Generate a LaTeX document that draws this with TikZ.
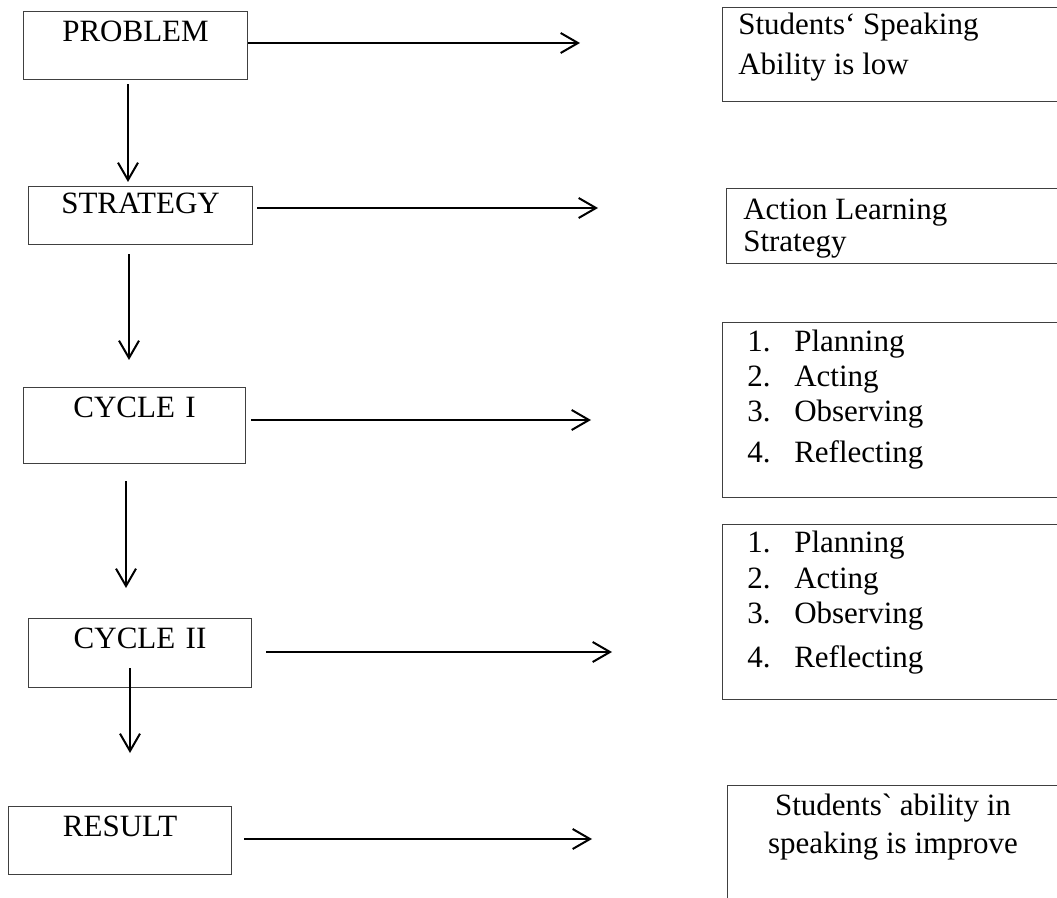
\documentclass[tikz,border=0pt]{standalone}
\usepackage{fontspec}
\setmainfont{Liberation Serif}
\usetikzlibrary{arrows.meta}
\usetikzlibrary{calc}
\tikzset{>={Straight Barb[length=13pt,width=15pt]}}
\tikzset{box/.style={draw=black!75,line width=0.8pt,inner sep=0pt,anchor=north west}}
\tikzset{lbox/.style={box,text width=168pt,align=center,text height=22.5pt,font=\fontsize{23.25}{26.25}\selectfont}}
\tikzset{txt/.style={inner sep=0pt,font=\fontsize{23.25}{26.25}\selectfont}}
\tikzset{flow/.style={->,line width=1.5pt}}

\begin{document}
\begin{tikzpicture}[x=0.75pt,y=-0.75pt]
			\clip (0,0) rectangle (1057,898);
			\node[lbox,text depth=28.5pt] (problem) at (23,11) {PROBLEM};
			\node[lbox,text height=20.25pt,text depth=23.25pt] (strategy) at (28,186) {STRATEGY};
			\node[lbox,text width=166.5pt,text depth=34.5pt] (cycone) at (23,387) {CYCLE I};
			\node[lbox,text width=167.25pt,text depth=29.25pt] (cyctwo) at (28,618) {CYCLE II};
			\node[lbox,text width=167.25pt,text depth=28.5pt] (result) at (8,806) {RESULT};
			
			\node[box,minimum width=253.5pt,minimum height=70.5pt] (ansone) at (722,7) {};
			\node[box,minimum width=250.5pt,minimum height=56.25pt] (anstwo) at (726,188) {};
			\node[box,minimum width=253.5pt,minimum height=131.25pt] (ansthree) at (722,322) {};
			\node[box,minimum width=253.5pt,minimum height=131.25pt] (ansfour) at (722,524) {};
			\node[box,minimum width=249.75pt,minimum height=97.5pt] (ansfive) at (727,785) {};
			
			\node[txt,anchor=base west,align=left] (ansonetxt) at ($(ansone.north west)+(16,68)$) {Students‘ Speaking\\[3.75pt]Ability is low};
			\node[txt,anchor=base west,align=left] (anstwotxt) at ($(anstwo.north west)+(17,64)$) {Action Learning\\[-2.25pt]Strategy};
			\node[txt,anchor=base west,align=left] (ansthreetxt) at ($(ansthree.north west)+(25,141)$) {\makebox[35.25pt][l]{1.}Planning\\\makebox[35.25pt][l]{2.}Acting\\\makebox[35.25pt][l]{3.}Observing\\[4.5pt]\makebox[35.25pt][l]{4.}Reflecting};
			\node[txt,anchor=base west,align=left] (ansfourtxt) at ($(ansfour.north west)+(25,143)$) {\makebox[35.25pt][l]{1.}Planning\\[0.75pt]\makebox[35.25pt][l]{2.}Acting\\\makebox[35.25pt][l]{3.}Observing\\[6.75pt]\makebox[35.25pt][l]{4.}Reflecting};
			\node[txt,anchor=base,align=center] (ansfivetxt) at (893,853) {Students\textasciigrave{} ability in\\[2.25pt]speaking is improve};
			
			\coordinate (aone) at (580,43);
			\coordinate (atwo) at (598,208);
			\coordinate (athree) at (591,420);
			\coordinate (afour) at (612,652);
			\coordinate (afive) at (592,839);
			\coordinate (done) at (128,182);
			\coordinate (dtwo) at (129,360);
			\coordinate (dthree) at (126,588);
			\coordinate (dfour) at (130,753);
			
			\draw[flow] (problem.east |- aone) -- (aone);
			\draw[flow] ([xshift=3pt]strategy.east |- atwo) -- (atwo);
			\draw[flow] ([xshift=3.75pt]cycone.east |- athree) -- (athree);
			\draw[flow] ([xshift=10.5pt]cyctwo.east |- afour) -- (afour);
			\draw[flow] ([xshift=9pt]result.east |- afive) -- (afive);
			
			\draw[flow] ([yshift=-3pt]problem.south -| done) -- (done);
			\draw[flow] ([yshift=-6.75pt]strategy.south -| dtwo) -- (dtwo);
			\draw[flow] ([yshift=-12.75pt]cycone.south -| dthree) -- (dthree);
			\draw[flow] ([yshift=15pt]cyctwo.south -| dfour) -- (dfour);
\end{tikzpicture}
\end{document}
